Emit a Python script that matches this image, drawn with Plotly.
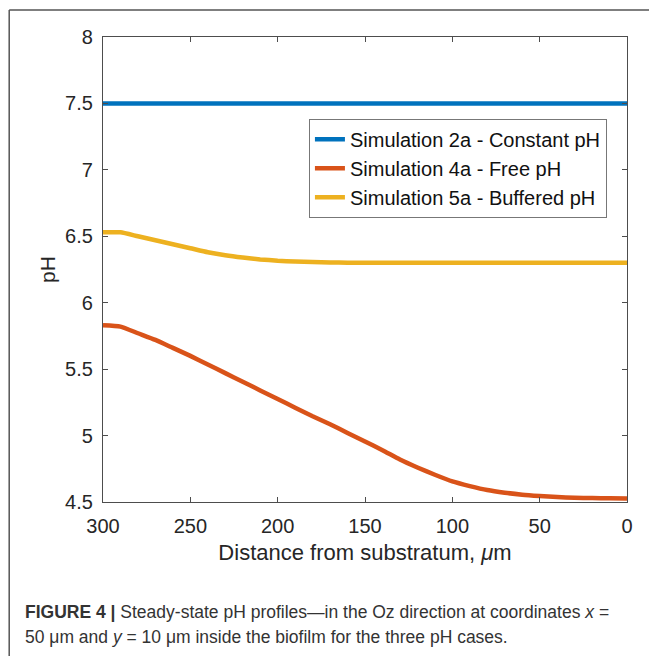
import plotly.graph_objects as go

# distance from substratum (um) and pH
distance = [300, 290, 280, 270, 260, 250, 240, 230, 220, 210, 200, 190, 180, 170, 160,
            150, 140, 130, 120, 110, 100, 90, 80, 70, 60, 50, 40, 30, 20, 10, 0]

ph_constant = [7.5] * len(distance)

ph_free = [5.83, 5.82, 5.77, 5.72, 5.66, 5.60, 5.535, 5.47, 5.405, 5.34, 5.275, 5.21,
           5.145, 5.085, 5.02, 4.955, 4.89, 4.82, 4.76, 4.705, 4.655, 4.62, 4.59,
           4.57, 4.555, 4.545, 4.537, 4.532, 4.53, 4.528, 4.527]

ph_buffered = [6.53, 6.53, 6.50, 6.47, 6.44, 6.41, 6.38, 6.357, 6.34, 6.326, 6.316,
               6.31, 6.306, 6.303, 6.301, 6.30, 6.30, 6.30, 6.30, 6.30, 6.30, 6.30,
               6.30, 6.30, 6.30, 6.30, 6.30, 6.30, 6.30, 6.30, 6.30]

series = [
    ("Simulation 2a - Constant pH", ph_constant, "#0072BD"),
    ("Simulation 4a - Free pH", ph_free, "#D95319"),
    ("Simulation 5a - Buffered pH", ph_buffered, "#EDB120"),
]

FONT = "Liberation Sans, Arial, sans-serif"
AXIS_COLOR = "#4d4d4d"
TEXT_COLOR = "#262626"

fig = go.Figure()
for name, values, color in series:
    fig.add_trace(go.Scatter(x=distance, y=values, mode="lines", name=name,
                             line=dict(color=color, width=4.5, shape="spline", smoothing=0.5)))

axis_common = dict(
    showline=True, linecolor=AXIS_COLOR, linewidth=1.2, mirror="ticks",
    ticks="inside", ticklen=5, tickcolor=AXIS_COLOR, showgrid=False, zeroline=False,
    tickfont=dict(family=FONT, size=20, color=TEXT_COLOR),
)

fig.update_xaxes(range=[300, 0], tickvals=[300, 250, 200, 150, 100, 50, 0],
                 ticklabelstandoff=6,
                 title=dict(text="Distance from substratum, <i>μ</i>m",
                            font=dict(family=FONT, size=22, color=TEXT_COLOR), standoff=8),
                 **axis_common)
fig.update_yaxes(range=[4.5, 8], dtick=0.5, ticklabelstandoff=5,
                 title=dict(text="pH", font=dict(family=FONT, size=21, color=TEXT_COLOR),
                            standoff=3),
                 **axis_common)

# frame around the figure panel (left and top edges)
fig.add_shape(type="line", xref="paper", yref="paper", x0=-0.179, x1=-0.179, y0=1.058, y1=-0.4,
              line=dict(color="#555555", width=1.5))
fig.add_shape(type="line", xref="paper", yref="paper", x0=-0.179, x1=1.1, y0=1.058, y1=1.058,
              line=dict(color="#555555", width=1.5))

caption_font = dict(family=FONT, size=17.5, color="#333333")
fig.add_annotation(xref="paper", yref="paper", x=-0.1527, y=-0.2366, xanchor="left", yanchor="middle",
                   showarrow=False, font=caption_font,
                   text="<b>FIGURE 4 |</b> Steady-state pH profiles—in the Oz direction at coordinates <i>x</i> =")
fig.add_annotation(xref="paper", yref="paper", x=-0.1527, y=-0.2903, xanchor="left", yanchor="middle",
                   showarrow=False, font=caption_font,
                   text="50 μm and <i>y</i> = 10 μm inside the biofilm for the three pH cases.")

fig.update_layout(
    width=649, height=648,
    margin=dict(l=95, r=30, t=29, b=154),
    paper_bgcolor="white", plot_bgcolor="white",
    legend=dict(x=0.393, y=0.824, xanchor="left", yanchor="top",
                bgcolor="white", bordercolor="#777777", borderwidth=1,
                font=dict(family=FONT, size=20, color="#111111"),
                tracegroupgap=0),
    showlegend=True,
)

fig.write_html("out.html")
